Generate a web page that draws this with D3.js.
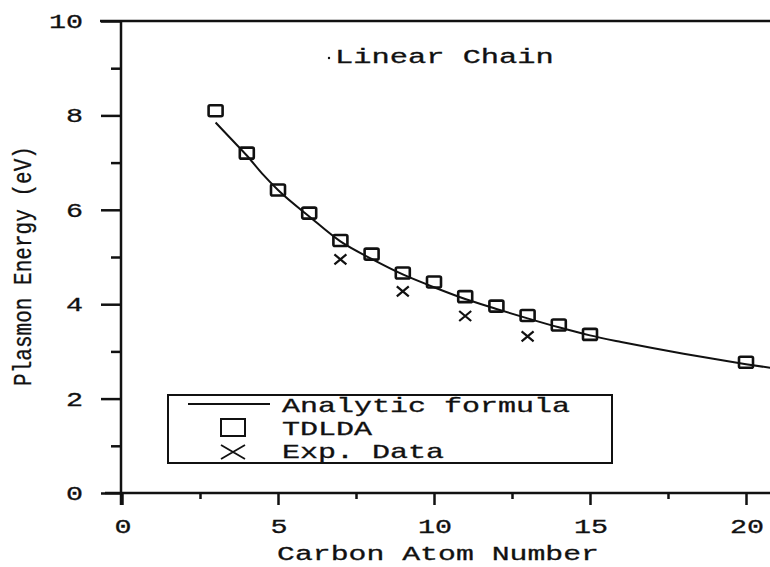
<!DOCTYPE html>
<html><head><meta charset="utf-8">
<script src="https://cdn.jsdelivr.net/npm/d3@7"></script>
<style>body{margin:0;background:#fff}svg{display:block}</style></head>
<body><svg id="c" width="770" height="567"></svg>
<script>
// ---- data ----
const tdldaN = [3,4,5,6,7,8,9,10,11,12,13,14,15,20];
const tdldaE = [8.1,7.2,6.42,5.93,5.35,5.06,4.66,4.47,4.16,3.96,3.76,3.56,3.36,2.77];
const expN = [7,9,11,13];
const expE = [4.95,4.27,3.75,3.32];
const curveN = [3.0,3.5,4,4.5,5,6,7,8,9,10,11,12,13,14,15,16,17,18,19,20,21];
const curveE = [7.85,7.5,7.15,6.76,6.42,5.86,5.33,4.96,4.63,4.36,4.11,3.9,3.7,3.51,3.34,3.2,3.07,2.95,2.84,2.73,2.63];
const xMajor = [0,5,10,15,20];
const xMinor = [2.5,7.5,12.5,17.5];
const yMajor = [0,2,4,6,8,10];
const yMinor = [1,3,5,7,9];
const titleText = "Linear Chain";
const xLabel = "Carbon Atom Number";
const yLabel = "Plasmon Energy (eV)";
const legendItems = ["Analytic formula","TDLDA","Exp. Data"];

// ---- layout ----
const svg = d3.select("#c");
const FONT = "'Liberation Mono','Courier New',monospace";
const x = d3.scaleLinear().domain([0,21]).range([122,122+21*31.2]);
const y = d3.scaleLinear().domain([0,10]).range([493,21]);
const ink = "#111";

function label(g, tx, ty, str, anchor, fs, sx, rot){
  return g.append("text")
    .attr("transform", `translate(${tx},${ty})` + (rot?` rotate(${rot})`:"") + ` scale(${sx},1)`)
    .attr("text-anchor", anchor||"start")
    .attr("font-family", FONT).attr("font-size", fs)
    .attr("fill", ink).attr("stroke", ink).attr("stroke-width", 0.3)
    .text(str);
}

// frame lines
svg.append("line").attr("x1",100).attr("x2",770).attr("y1",y(10)).attr("y2",y(10))
  .attr("stroke",ink).attr("stroke-width",2.5);
svg.append("line").attr("x1",105).attr("x2",770).attr("y1",y(0)).attr("y2",y(0))
  .attr("stroke",ink).attr("stroke-width",2.5);
svg.append("line").attr("x1",x(0)-1).attr("x2",x(0)-1).attr("y1",y(10)).attr("y2",y(0)+12)
  .attr("stroke",ink).attr("stroke-width",2.5);

// axes via d3
const yAx = svg.append("g").attr("transform",`translate(${x(0)-1},0)`)
  .call(d3.axisLeft(y).tickValues(yMajor).tickSize(20).tickSizeOuter(0).tickFormat(""));
const yAxMin = svg.append("g").attr("transform",`translate(${x(0)-1},0)`)
  .call(d3.axisLeft(y).tickValues(yMinor).tickSize(10).tickSizeOuter(0).tickFormat(""));
const xAx = svg.append("g").attr("transform",`translate(0,${y(0)})`)
  .call(d3.axisBottom(x).tickValues(xMajor).tickSize(12).tickSizeOuter(0).tickFormat(""));
const xAxMin = svg.append("g").attr("transform",`translate(0,${y(0)})`)
  .call(d3.axisBottom(x).tickValues(xMinor).tickSize(6).tickSizeOuter(0).tickFormat(""));
[yAx,yAxMin,xAx,xAxMin].forEach(g=>{
  g.select(".domain").remove();
  g.selectAll("line").attr("stroke",ink).attr("stroke-width",2.5);
});

// tick labels
yMajor.forEach(v=>label(svg, 83, y(v)+7, String(v), "end", 20, 1.42));
xMajor.forEach(v=>label(svg, x(v)+1, 533, String(v), "middle", 20, 1.42));

// axis titles
label(svg, 438, 560, xLabel, "middle", 21, 1.42);
label(svg, 31, 266, yLabel, "middle", 26, 0.81, -90);

// plot title
label(svg, 335, 63, titleText, "start", 20, 1.52);
svg.append("circle").attr("cx",329).attr("cy",58).attr("r",1.2).attr("fill",ink);

// analytic curve
const line = d3.line().x((d,i)=>x(curveN[i])).y((d,i)=>y(curveE[i])).curve(d3.curveMonotoneX);
svg.append("path").attr("d", line(curveN)).attr("fill","none")
  .attr("stroke",ink).attr("stroke-width",2);

// TDLDA squares
svg.selectAll("rect.td").data(tdldaN).join("rect").attr("class","td")
  .attr("x",(d)=>x(d)-7).attr("y",(d,i)=>y(tdldaE[i])-5.5)
  .attr("width",14).attr("height",11).attr("rx",1.5)
  .attr("fill","none").attr("stroke",ink).attr("stroke-width",2.6);

// Exp crosses
const cross = svg.selectAll("g.ex").data(expN).join("g").attr("class","ex")
  .attr("transform",(d,i)=>`translate(${x(d)},${y(expE[i])})`);
cross.append("path").attr("d","M-6,-5L6,5M-6,5L6,-5")
  .attr("stroke",ink).attr("stroke-width",2.2).attr("fill","none");

// legend
const lg = svg.append("g");
lg.append("rect").attr("x",168).attr("y",395).attr("width",444).attr("height",68)
  .attr("fill","#fff").attr("stroke",ink).attr("stroke-width",2);
lg.append("line").attr("x1",188).attr("x2",270).attr("y1",404).attr("y2",404)
  .attr("stroke",ink).attr("stroke-width",2);
lg.append("rect").attr("x",221).attr("y",419).attr("width",24).attr("height",17)
  .attr("fill","none").attr("stroke",ink).attr("stroke-width",2);
lg.append("path").attr("d","M221,445L245,459M221,459L245,445")
  .attr("stroke",ink).attr("stroke-width",1.8).attr("fill","none");
label(lg, 282, 412, legendItems[0], "start", 20, 1.5);
label(lg, 282, 435, legendItems[1], "start", 20, 1.5);
label(lg, 282, 458, legendItems[2], "start", 20, 1.5);
</script></body></html>
